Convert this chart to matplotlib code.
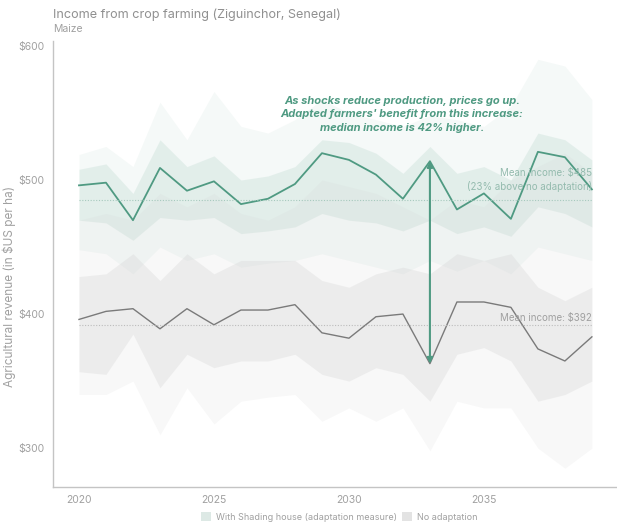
import numpy as np
import matplotlib.pyplot as plt
from matplotlib.patches import Patch

plt.rcParams['font.family'] = ['Inter', 'DejaVu Sans']

years = np.arange(2020, 2040)

# revenue with shading house (US$/ha)
adapt_median = [496, 498, 470, 509, 492, 499, 482, 486, 497, 520,
                515, 504, 486, 514, 478, 490, 471, 521, 517, 493]
adapt_p75 = [508, 512, 490, 530, 510, 518, 500, 503, 510, 530,
             528, 520, 505, 525, 505, 510, 500, 535, 530, 515]
adapt_p25 = [470, 468, 455, 472, 470, 472, 460, 462, 465, 475,
             470, 468, 462, 470, 460, 465, 458, 480, 475, 465]
adapt_p95 = [519, 525, 510, 558, 530, 566, 540, 535, 545, 560,
             550, 545, 540, 548, 545, 540, 555, 590, 585, 560]
adapt_p05 = [448, 445, 430, 450, 440, 445, 435, 438, 440, 445,
             440, 435, 430, 440, 432, 440, 430, 450, 445, 440]

# revenue without adaptation (US$/ha)
noadapt_median = [396, 402, 404, 389, 404, 392, 403, 403, 407, 386,
                  382, 398, 400, 363, 409, 409, 405, 374, 365, 383]
noadapt_p75 = [428, 430, 445, 425, 445, 430, 440, 440, 440, 425,
               420, 430, 435, 430, 445, 440, 445, 420, 410, 420]
noadapt_p25 = [357, 355, 385, 345, 370, 360, 365, 365, 370, 355,
               350, 360, 355, 335, 370, 375, 365, 335, 340, 350]
noadapt_p95 = [470, 475, 470, 490, 480, 490, 475, 470, 480, 500,
               495, 490, 480, 470, 485, 480, 500, 510, 520, 505]
noadapt_p05 = [340, 340, 350, 310, 345, 318, 335, 338, 340, 320,
               330, 320, 330, 298, 335, 330, 330, 300, 285, 300]

adapt_mean = 485
noadapt_mean = 392
mean_gap = 23
arrow_year = 2033

green = '#4f9a82'
grey_line = '#7a7a7a'
text_grey = '#a0a0a0'

fig = plt.figure(figsize=(6.17, 5.24), dpi=100)
ax = fig.add_axes([0.086, 0.0706, 0.914, 0.852])

# uncertainty bands
ax.fill_between(years, adapt_p05, adapt_p95, color='#b4d4c9', alpha=0.13, lw=0)
ax.fill_between(years, adapt_p25, adapt_p75, color='#b4d4c9', alpha=0.28, lw=0)
ax.fill_between(years, noadapt_p05, noadapt_p95, color='#cfcfcf', alpha=0.14, lw=0)
ax.fill_between(years, noadapt_p25, noadapt_p75, color='#cfcfcf', alpha=0.28, lw=0)

# medians
ax.plot(years, adapt_median, color=green, lw=1.3)
ax.plot(years, noadapt_median, color=grey_line, lw=1.0)

# mean lines
ax.plot([years[0], years[-1]], [adapt_mean, adapt_mean], color='#a6c9bd', lw=0.8, ls=(0, (1, 1.5)))
ax.plot([years[0], years[-1]], [noadapt_mean, noadapt_mean], color='#bcbcbc', lw=0.8, ls=(0, (1, 1.5)))

ax.text(years[-1], adapt_mean + 20, f'Mean income: ${adapt_mean}', ha='right', va='center',
        fontsize=7, color='#94bbae')
ax.text(years[-1], adapt_mean + 10, f'({mean_gap}% above no adaptation)', ha='right', va='center',
        fontsize=7, color='#94bbae')
ax.text(years[-1], noadapt_mean + 5, f'Mean income: ${noadapt_mean}', ha='right', va='center',
        fontsize=7, color=text_grey)

# arrow between the two medians
i = list(years).index(arrow_year)
ax.annotate('', xy=(arrow_year, adapt_median[i]), xytext=(arrow_year, noadapt_median[i]),
            arrowprops=dict(arrowstyle='<|-|>', color=green, lw=1.5,
                            mutation_scale=8, shrinkA=0, shrinkB=0))

gain = round((adapt_median[i] / noadapt_median[i] - 1) * 100)
ax.text(2031.96, 549,
        'As shocks reduce production, prices go up.\n'
        "Adapted farmers' benefit from this increase:\n"
        f'median income is {gain}% higher.',
        ha='center', va='center', fontsize=8, color=green, fontweight='bold',
        fontstyle='italic', linespacing=1.45)

ax.set_xlim(2019.04, 2039.93)
ax.set_ylim(271, 604)
ax.set_xticks([2020, 2025, 2030, 2035])
ax.set_yticks([300, 400, 500, 600])
ax.set_yticklabels([f'${v}' for v in [300, 400, 500, 600]])
ax.tick_params(length=0, labelsize=7.5, labelcolor=text_grey, pad=6)
for s in ['top', 'right']:
    ax.spines[s].set_visible(False)
for s in ['left', 'bottom']:
    ax.spines[s].set_color('#c4c4c4')
    ax.spines[s].set_linewidth(1.0)

ax.set_ylabel('Agricultural revenue (in $US per ha)', fontsize=8.5, color=text_grey)
ax.yaxis.set_label_coords(-0.065, 0.45)

fig.text(0.086, 0.972, 'Income from crop farming (Ziguinchor, Senegal)', fontsize=9.1,
         color='#909090', va='center')
fig.text(0.086, 0.944, 'Maize', fontsize=7.5, color=text_grey, va='center')

handles = [Patch(facecolor='#dde9e5', edgecolor='none'),
           Patch(facecolor='#e3e3e3', edgecolor='none')]
fig.legend(handles, ['With Shading house (adaptation measure)', 'No adaptation'],
           loc='center', bbox_to_anchor=(0.55, 0.013), ncol=2, frameon=False,
           fontsize=6.5, labelcolor=text_grey, handlelength=1.1, handleheight=1.1,
           columnspacing=0.6, handletextpad=0.5)

fig.savefig('out.png', dpi=100)
